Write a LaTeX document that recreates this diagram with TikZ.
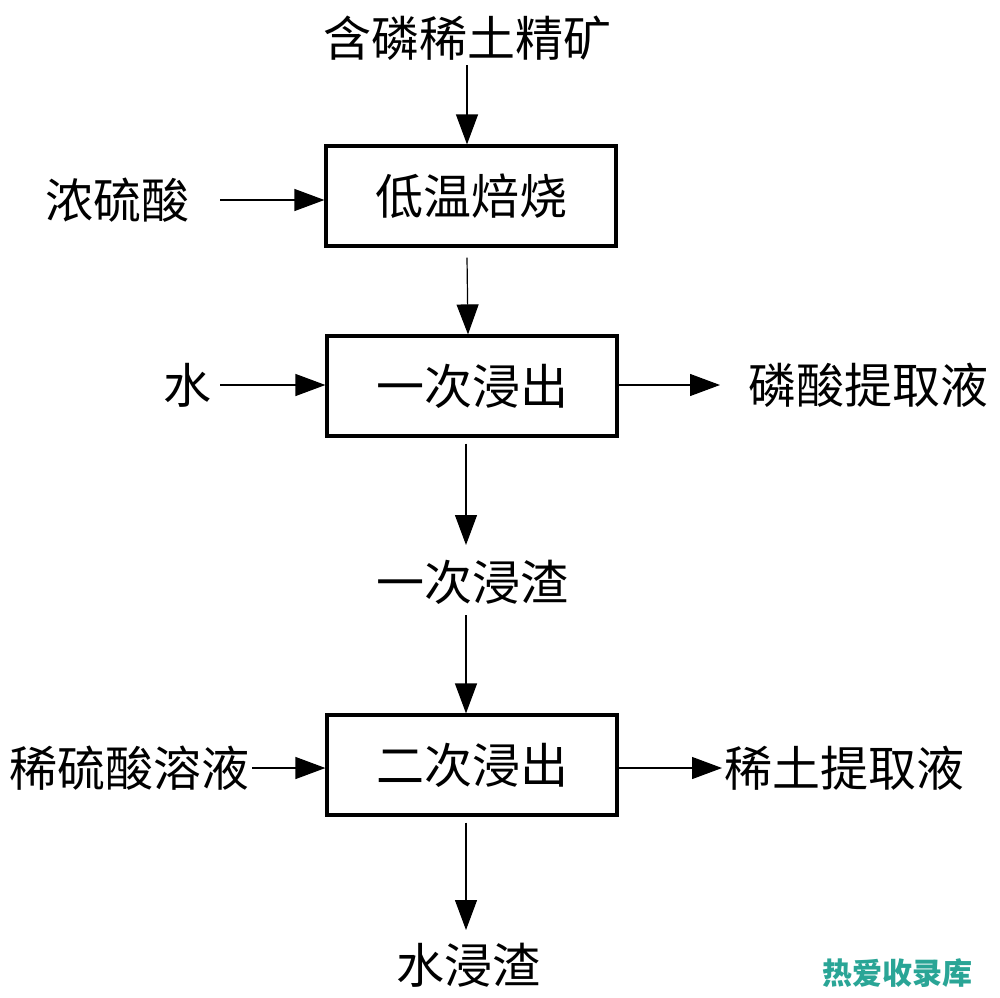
\documentclass[tikz,border=0pt]{standalone}
\usepackage{fontspec}
\newfontfamily\cjk{Noto Sans CJK SC}
\usetikzlibrary{arrows.meta,calc}
\definecolor{wmteal}{RGB}{42,165,150}
\begin{document}
\begin{tikzpicture}[x=0.5pt,y=-0.5pt,
  proc/.style={draw,line width=1.6pt,minimum width=145pt,minimum height=50pt,inner sep=0pt,font=\cjk\fontsize{24}{24}\selectfont},
  lbl/.style={inner sep=1pt,font=\cjk\fontsize{24}{24}\selectfont},
  flow/.style={line width=0.6pt,-{Triangle[length=15pt,width=11pt]}},
  wm/.style={inner sep=0pt,text=wmteal,font=\cjk\bfseries\fontsize{15}{15}\selectfont}]
\useasboundingbox (0,0) rectangle (1000,997);
\node[proc] (b1) at (471,196) {低温焙烧};
\node[proc] (b2) at (472,386) {一次浸出};
\node[proc] (b3) at (472,765) {二次浸出};
\node[lbl] (top) at (467,38) {含磷稀土精矿};
\node[lbl,anchor=east] (acid) at (192,200) {浓硫酸};
\node[lbl,anchor=east] (water) at (214,385) {水};
\node[lbl,anchor=west] (pacid) at (746,385) {磷酸提取液};
\node[lbl] (res1) at (472,582) {一次浸渣};
\node[lbl,anchor=east] (dil) at (252,768) {稀硫酸溶液};
\node[lbl,anchor=west] (ree) at (722,768) {稀土提取液};
\node[lbl] (res2) at (468,965) {水浸渣};
\node[wm] (mark) at (897,973) {热爱收录库};
\coordinate (c1) at (467,65);
\draw[flow] (c1) -- (c1 |- b1.north);
\draw[flow] (220,200) -- (acid.east -| b1.west);
\draw[flow] ($(b1.south)+(-4,10)$) -- ($(b2.north)+(-4,0)$);
\draw[flow] (water.east) ++(6,0) -- (water.east -| b2.west);
\draw[flow] (pacid.west -| b2.east) -- ($(pacid.west)+(-26,0)$);
\draw[flow] ($(b2.south)+(-6,6)$) -- (466,545);
\draw[flow] (466,615) -- ($(b3.north)+(-6,0)$);
\draw[flow] (dil.east) -- (dil.east -| b3.west);
\draw[flow] (ree.west -| b3.east) -- (ree.west);
\draw[flow] ($(b3.south)+(-6,6)$) -- (466,930);
\end{tikzpicture}
\end{document}
